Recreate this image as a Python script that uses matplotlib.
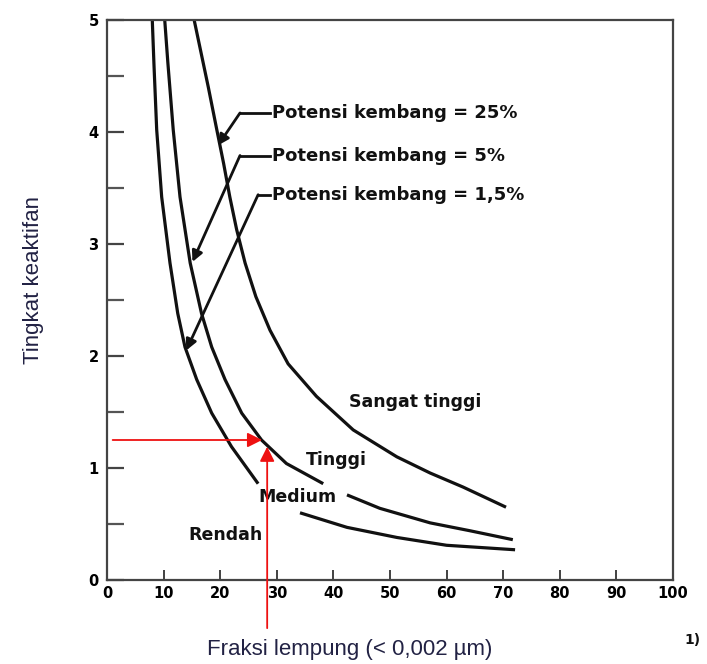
import numpy as np
import matplotlib
matplotlib.use("Agg")
import matplotlib.pyplot as plt

plt.rcParams['font.family'] = ['DejaVu Sans']

# Curves (clay fraction %, activity); nan = gap left for region labels
x_25 = [15.4, 17.9, 19.4, 20.6, 21.7, 22.9, 24.4, 26.3, 28.8, 32.0, 37.0, 43.5, 51.2, 57.1, 62.9, 70.5]
y_25 = [5.0, 4.4, 4.02, 3.72, 3.42, 3.13, 2.83, 2.53, 2.23, 1.93, 1.64, 1.34, 1.10, 0.955, 0.83, 0.65]

x_5 = [10.2, 10.75, 11.7, 12.9, 14.7, 16.7, 18.5, 20.85, 23.8, 27.3, 31.7, 38.2,
       np.nan, 42.4, 48.2, 57.1, 64.1, 71.7]
y_5 = [5.0, 4.62, 4.02, 3.42, 2.83, 2.38, 2.08, 1.79, 1.49, 1.25, 1.04, 0.86,
       np.nan, 0.76, 0.64, 0.51, 0.44, 0.36]

x_15 = [8.0, 8.3, 8.78, 9.66, 11.13, 12.5, 13.78, 15.85, 18.5, 22.0, 26.7,
        np.nan, 34.1, 42.4, 51.2, 60.0, 72.1]
y_15 = [5.0, 4.6, 4.02, 3.42, 2.83, 2.38, 2.08, 1.79, 1.49, 1.19, 0.86,
        np.nan, 0.60, 0.47, 0.38, 0.31, 0.27]

x_ticks = [0, 10, 20, 30, 40, 50, 60, 70, 80, 90, 100]
y_ticks = [0, 1, 2, 3, 4, 5]

labels_curve = ["Potensi kembang = 25%", "Potensi kembang = 5%", "Potensi kembang = 1,5%"]
region_labels = ["Sangat tinggi", "Tinggi", "Medium", "Rendah"]

fig = plt.figure(figsize=(7.07, 6.64), dpi=100)
ax = fig.add_axes([107/707, 84/664, 566/707, 560/664])

lc = '#111111'
for xs, ys in [(x_25, y_25), (x_5, y_5), (x_15, y_15)]:
    ax.plot(xs, ys, color=lc, lw=2.3, solid_capstyle='butt', solid_joinstyle='round')

ax.set_xlim(0, 100)
ax.set_ylim(0, 5)
ax.set_xticks(x_ticks)
ax.set_yticks(y_ticks)
ax.set_yticks([0.5, 1.5, 2.5, 3.5, 4.5], minor=True)
ax.tick_params(axis='x', direction='in', length=7, width=1.3, colors='#333333',
               labelsize=10.5, labelcolor='black', pad=4)
ax.tick_params(axis='y', which='major', direction='in', length=12, width=1.6,
               colors='#444444', labelsize=10.5, labelcolor='black', pad=6)
ax.tick_params(axis='y', which='minor', direction='in', length=12, width=1.6, colors='#555555')
for lab in ax.get_xticklabels() + ax.get_yticklabels():
    lab.set_fontweight('bold')
for sp in ax.spines.values():
    sp.set_color('#444444')
    sp.set_linewidth(1.6)

# leader lines with arrows
leaders = [((28.8, 4.17), (23.5, 4.17), (19.6, 3.88)),
           ((28.8, 3.79), (23.5, 3.79), (15.1, 2.84)),
           ((28.8, 3.44), (26.7, 3.44), (14.0, 2.05))]
for (p0, p1, tip), lab in zip(leaders, labels_curve):
    ax.plot([p0[0], p1[0]], [p0[1], p1[1]], color=lc, lw=2.0)
    ax.annotate('', xy=tip, xytext=p1,
                arrowprops=dict(arrowstyle='-|>', color=lc, lw=2.0,
                                mutation_scale=16, shrinkA=0, shrinkB=0))
    ax.text(p0[0] + 0.3, p0[1], lab, fontsize=13, fontweight='bold',
            ha='left', va='center', color='#111111')

region_pos = [(54.4, 1.59), (40.6, 1.07), (33.6, 0.74), (21.0, 0.40)]
for (px, py), lab in zip(region_pos, region_labels):
    ax.text(px, py, lab, fontsize=12.5, fontweight='bold', ha='center', va='center',
            color='#111111')

# red arrows
red = '#ee1111'
ax.annotate('', xy=(27.4, 1.25), xytext=(1.0, 1.25),
            arrowprops=dict(arrowstyle='-|>', color=red, lw=1.3,
                            mutation_scale=22, shrinkA=0, shrinkB=0))
ax.annotate('', xy=(28.3, 1.19), xytext=(28.3, -0.43), annotation_clip=False,
            arrowprops=dict(arrowstyle='-|>', color=red, lw=1.3,
                            mutation_scale=22, shrinkA=0, shrinkB=0))

fig.text(34/707, 1 - 280/664, "Tingkat keaktifan", rotation=90, fontsize=16,
         ha='center', va='center', color='#222244', family='Liberation Sans')
fig.text(350/707, 1 - 650/664, "Fraksi lempung (< 0,002 \u00b5m)", fontsize=16,
         ha='center', va='center', color='#222244', family='Liberation Sans')
fig.text(693/707, 1 - 640/664, "1)", fontsize=10, fontweight='bold',
         ha='center', va='center', color='#111111')

fig.savefig("out.png", dpi=100)
